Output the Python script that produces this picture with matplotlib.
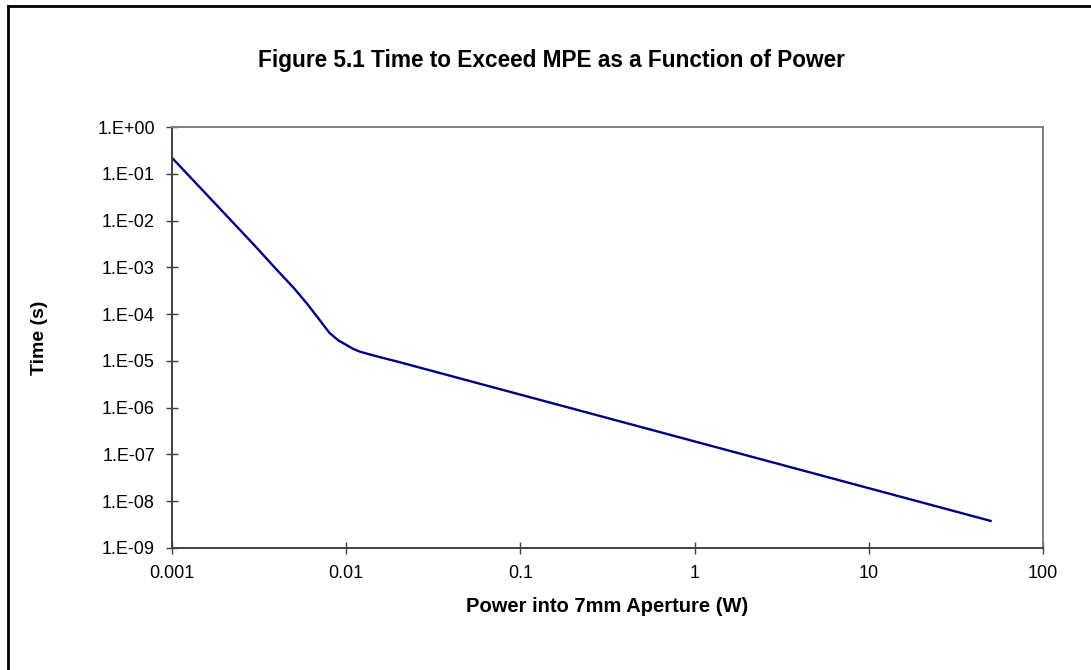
import numpy as np
import matplotlib
matplotlib.use('Agg')
import matplotlib.pyplot as plt
import matplotlib.ticker as ticker
from matplotlib.lines import Line2D

plt.rcParams['font.family'] = ['Liberation Sans', 'DejaVu Sans']

# data
power = [0.001, 0.002, 0.003, 0.004, 0.005, 0.006, 0.007, 0.008, 0.009, 0.01,
         0.011, 0.012, 0.015, 0.02, 0.05, 0.1, 0.2, 0.5, 1, 2, 5, 10, 20, 50]
time_s = [0.22, 1.42e-2, 2.85e-3, 8.8e-4, 3.63e-4, 1.62e-4, 7.7e-5, 4.0e-5, 2.75e-5, 2.2e-5,
          1.8e-5, 1.57e-5, 1.25e-5, 9.5e-6, 3.8e-6, 1.9e-6, 9.5e-7, 3.8e-7, 1.9e-7,
          9.5e-8, 3.8e-8, 1.9e-8, 9.5e-9, 3.8e-9]
x_ticks = [0.001, 0.01, 0.1, 1, 10, 100]
x_ticklabels = ['0.001', '0.01', '0.1', '1', '10', '100']
y_ticks = [10.0 ** -k for k in range(0, 10)]
y_ticklabels = ['1.E+00'] + ['1.E-%02d' % k for k in range(1, 10)]

W, H = 1091, 670
fig = plt.figure(figsize=(W / 100, H / 100), dpi=100)
ax = fig.add_axes([172 / W, 1 - 548 / H, 871 / W, 421 / H])

ax.plot(power, time_s, color='#000080', lw=1.7, solid_joinstyle='round')
ax.set_xscale('log')
ax.set_yscale('log')
ax.set_xlim(0.001, 100)
ax.set_ylim(1e-9, 1)

ax.set_xticks(x_ticks)
ax.set_xticklabels(x_ticklabels)
ax.set_yticks(y_ticks)
ax.set_yticklabels(y_ticklabels)
ax.xaxis.set_minor_locator(ticker.NullLocator())
ax.yaxis.set_minor_locator(ticker.NullLocator())
ax.tick_params(direction='inout', length=8.5, width=1, color='#404040',
               labelsize=13, pad=8)

for side in ['left', 'bottom']:
    ax.spines[side].set_color('#404040')
    ax.spines[side].set_linewidth(1.4)
for side in ['top', 'right']:
    ax.spines[side].set_color('#808080')
    ax.spines[side].set_linewidth(1.4)

fig.text(551 / W, 1 - 60 / H, 'Figure 5.1 Time to Exceed MPE as a Function of Power',
         ha='center', va='center', fontsize=16.3, fontweight='bold')
fig.text(607 / W, 1 - 606 / H, 'Power into 7mm Aperture (W)',
         ha='center', va='center', fontsize=14.5, fontweight='bold')
fig.text(40 / W, 1 - 338 / H, 'Time (s)', rotation=90,
         ha='center', va='center', fontsize=14, fontweight='bold')

# outer chart border (left and top edges are visible)
fig.add_artist(Line2D([8 / W, 8 / W], [0, 1 - 6 / H], color='black', lw=2,
                      transform=fig.transFigure))
fig.add_artist(Line2D([8 / W, 1], [1 - 6 / H, 1 - 6 / H], color='black', lw=2,
                      transform=fig.transFigure))

fig.savefig('out.png', dpi=100)
